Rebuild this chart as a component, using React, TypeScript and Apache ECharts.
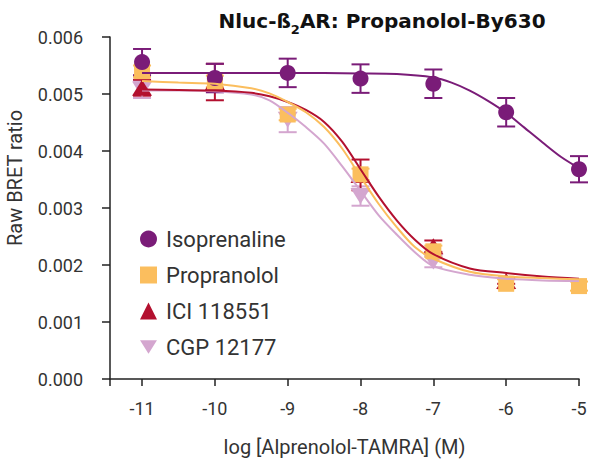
import React, { useEffect, useRef } from "react";
import * as echarts from "echarts";

// measured points (log M)
const doses = [-11, -10, -9, -8, -7, -6, -5];
const isoMean = [0.00556, 0.00528, 0.00537, 0.00527, 0.00518, 0.00468, 0.00368];
const isoErr = [0.00023, 0.00025, 0.00025, 0.00025, 0.00025, 0.00025, 0.00023];
const propMean = [0.0054, 0.00522, 0.00464, 0.00359, 0.00224, 0.00167, 0.00163];
const propErr = [0.0001, 0.0001, 0.0001, 0.0001, 0.0001, 0.00008, 0.00008];
const iciMean = [0.00511, 0.00521, null, 0.00358, 0.00233, 0.00172, null];
const iciErr = [0.00014, 0.00032, null, 0.00027, 0.0001, 0.00005, null];
const cgpMean = [0.00508, null, 0.00455, 0.00321, 0.00206, null, null];
const cgpErr = [0.00015, null, 0.00022, 0.00017, 0.0001, null, null];

// fitted curves
const curveX = [-11, -10.5, -10, -9.5, -9.25, -9, -8.75, -8.5, -8.25, -8, -7.75, -7.5, -7.25, -7, -6.5, -6, -5.5, -5];
const propCurve = [0.00523, 0.0052, 0.00518, 0.0051, 0.00501, 0.00486, 0.00468, 0.00442, 0.00404, 0.00355, 0.00307, 0.00266, 0.00231, 0.00211, 0.00188, 0.0018, 0.00177, 0.00175];
const iciCurve = [0.00508, 0.00507, 0.00506, 0.00502, 0.00496, 0.00486, 0.00472, 0.00451, 0.00416, 0.00368, 0.0032, 0.00278, 0.00244, 0.00219, 0.00194, 0.00186, 0.0018, 0.00176];
const cgpCurve = [0.00506, 0.00506, 0.00505, 0.00499, 0.00489, 0.00467, 0.00442, 0.00413, 0.00373, 0.0033, 0.00287, 0.00253, 0.00222, 0.00198, 0.00183, 0.00176, 0.00173, 0.00172];
const isoCurveX = [-11, -10, -9, -8, -7.5, -7, -6.75, -6.5, -6.25, -6, -5.75, -5.5, -5.25, -5];
const isoCurve = [0.00537, 0.00537, 0.00537, 0.00536, 0.00535, 0.00529, 0.0052, 0.00506, 0.00488, 0.00467, 0.00441, 0.00415, 0.0039, 0.0037];

const xTicks = [-11, -10, -9, -8, -7, -6, -5];
const xMin = -11.44;
const xMax = -5;

const names = ["Isoprenaline", "Propranolol", "ICI 118551", "CGP 12177"];
const colors = { iso: "#7a1c78", prop: "#fbbe5e", ici: "#b3102f", cgp: "#d4a6cf" };

const FONT = "Roboto";

function pairs(xs: number[], ys: (number | null)[]) {
  const out: number[][] = [];
  xs.forEach((x, i) => {
    if (ys[i] != null) out.push([x, ys[i] as number]);
  });
  return out;
}

function curveSeries(name: string, xs: number[], ys: number[], color: string) {
  return {
    type: "line",
    name: name + " fit",
    data: pairs(xs, ys),
    showSymbol: false,
    symbol: "none",
    smooth: 0.3,
    lineStyle: { color, width: 2 },
    silent: true,
  };
}

function errorSeries(name: string, mean: (number | null)[], err: (number | null)[], color: string) {
  const data: number[][] = [];
  doses.forEach((x, i) => {
    const m = mean[i];
    const e = err[i];
    if (m != null && e != null) data.push([x, m - e, m + e]);
  });
  return {
    type: "custom",
    name: name + " err",
    data,
    silent: true,
    encode: { x: 0, y: [1, 2] },
    renderItem: (params: any, api: any) => {
      const x = api.value(0);
      const lo = api.coord([x, api.value(1)]);
      const hi = api.coord([x, api.value(2)]);
      const hw = 9;
      const style = { stroke: color, lineWidth: 2, fill: "none" };
      return {
        type: "group",
        children: [
          { type: "line", shape: { x1: lo[0], y1: lo[1], x2: hi[0], y2: hi[1] }, style },
          { type: "line", shape: { x1: lo[0] - hw, y1: lo[1], x2: lo[0] + hw, y2: lo[1] }, style },
          { type: "line", shape: { x1: hi[0] - hw, y1: hi[1], x2: hi[0] + hw, y2: hi[1] }, style },
        ],
      };
    },
  };
}

function pointSeries(name: string, mean: (number | null)[], color: string, symbol: string, size: any) {
  return {
    type: "scatter",
    name,
    data: pairs(doses, mean),
    symbol,
    symbolSize: size,
    itemStyle: { color, opacity: 1 },
  };
}

export default function App() {
  const ref = useRef<HTMLDivElement>(null);
  useEffect(() => {
    if (!ref.current) return;
    document.body.style.margin = "0";
    const chart = echarts.init(ref.current, undefined, { renderer: "svg" });
    const downTri = "path://M0,0L20,0L10,16Z";
    chart.setOption({
      animation: false,
      grid: { left: 110, right: 21, top: 37, bottom: 91 },
      graphic: [
        {
          type: "text",
          x: 382,
          y: 23,
          style: {
            text: "{a|Nluc-ß}{s|2}{a|AR: Propanolol-By630}",
            align: "center",
            verticalAlign: "middle",
            rich: {
              a: { fontFamily: "DejaVu Sans", fontSize: 20, fontWeight: "bold", fill: "#111", lineHeight: 24, verticalAlign: "top" },
              s: { fontFamily: "DejaVu Sans", fontSize: 13, fontWeight: "bold", fill: "#111", lineHeight: 13, padding: [12, 0, 0, 0], verticalAlign: "top" },
            },
          },
        },
        {
          type: "text",
          x: 15,
          y: 178,
          rotation: Math.PI / 2,
          style: {
            text: "Raw BRET ratio",
            fontFamily: FONT,
            fontSize: 20,
            fill: "#333",
            align: "center",
            verticalAlign: "middle",
          },
        },
      ],
      legend: {
        data: names,
        orient: "vertical",
        left: 135,
        top: 223,
        itemWidth: 17,
        itemHeight: 17,
        itemGap: 14,
        textStyle: { fontFamily: FONT, fontSize: 22, color: "#333", padding: [0, 0, 0, 4] },
        selectedMode: false,
      },
      xAxis: {
        type: "value",
        min: xMin,
        max: xMax,
        name: "log [Alprenolol-TAMRA] (M)",
        nameLocation: "middle",
        nameGap: 58,
        nameTextStyle: { fontFamily: FONT, fontSize: 20, color: "#333" },
        axisLine: { onZero: false, lineStyle: { color: "#222", width: 1.5 } },
        axisTick: { customValues: [xMin, ...xTicks], length: 7, lineStyle: { color: "#222", width: 1.5 } },
        axisLabel: {
          customValues: xTicks,
          margin: 20,
          fontFamily: FONT,
          fontSize: 18,
          color: "#333",
          formatter: (v: number) => String(Math.round(v)),
        },
        splitLine: { show: false },
      },
      yAxis: {
        type: "value",
        min: 0,
        max: 0.006,
        interval: 0.001,
        axisLine: { show: true, lineStyle: { color: "#222", width: 1.5 } },
        axisTick: { show: true, length: 8, lineStyle: { color: "#222", width: 1.5 } },
        axisLabel: {
          margin: 27,
          fontFamily: FONT,
          fontSize: 18,
          color: "#333",
          formatter: (v: number) => v.toFixed(3),
        },
        splitLine: { show: false },
      },
      series: [
        curveSeries(names[3], curveX, cgpCurve, colors.cgp),
        errorSeries(names[3], cgpMean, cgpErr, colors.cgp),
        pointSeries(names[3], cgpMean, colors.cgp, downTri, [20, 16]),
        curveSeries(names[2], curveX, iciCurve, colors.ici),
        errorSeries(names[2], iciMean, iciErr, colors.ici),
        pointSeries(names[2], iciMean, colors.ici, "triangle", [20, 16]),
        curveSeries(names[1], curveX, propCurve, colors.prop),
        errorSeries(names[1], propMean, propErr, colors.prop),
        pointSeries(names[1], propMean, colors.prop, "rect", 16),
        curveSeries(names[0], isoCurveX, isoCurve, colors.iso),
        errorSeries(names[0], isoMean, isoErr, colors.iso),
        pointSeries(names[0], isoMean, colors.iso, "circle", 16),
      ],
    });
    return () => chart.dispose();
  }, []);
  return <div ref={ref} style={{ width: 600, height: 470 }} />;
}
